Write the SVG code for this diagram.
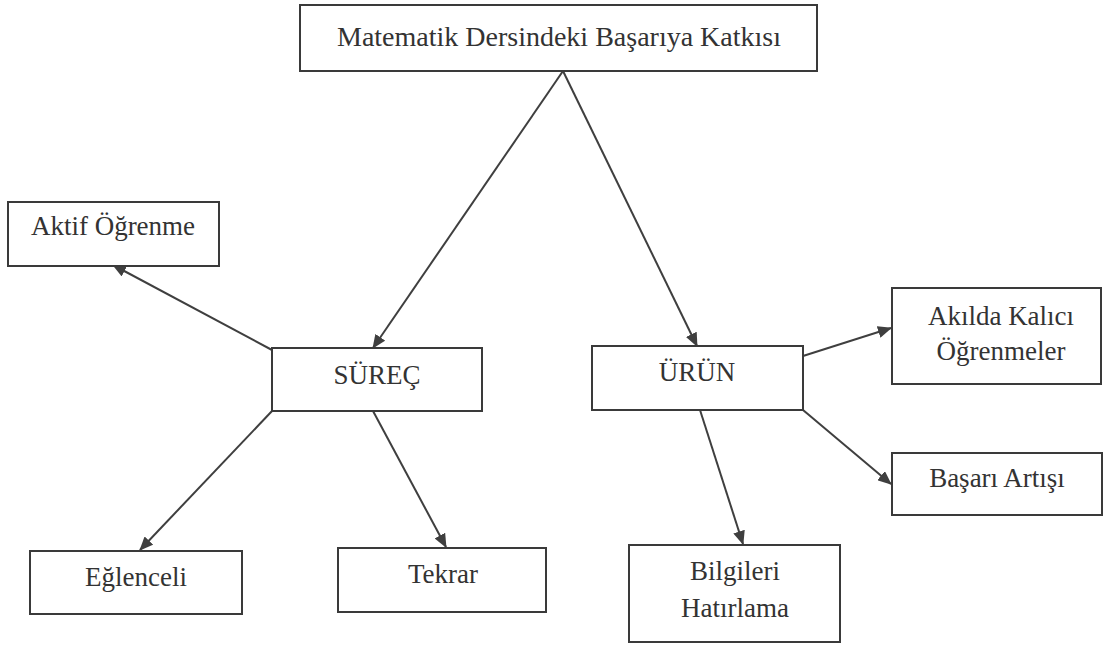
<svg xmlns="http://www.w3.org/2000/svg" width="1105" height="646" viewBox="0 0 1105 646">
  <style>
    .box { fill: #ffffff; stroke: #3a3a3a; stroke-width: 2; }
    .lbl { font-family: 'Liberation Serif', 'DejaVu Serif', serif; font-size: 27px; fill: #333333; text-anchor: middle; }
    .title { font-size: 28px; }
    .edge { stroke: #3f3f3f; stroke-width: 2; fill: none; marker-end: url(#arrow); }
  </style>
  <defs>
    <marker id="arrow" viewBox="0 0 14 12" markerWidth="14" markerHeight="12" refX="13" refY="6" orient="auto" markerUnits="userSpaceOnUse">
      <path d="M0,0 L14,6 L0,12 z" fill="#3f3f3f"/>
    </marker>
  </defs>
  <rect width="1105" height="646" fill="#ffffff"/>

  <g id="connectors">
    <line class="edge" x1="563" y1="71" x2="373" y2="348"/>
    <line class="edge" x1="563" y1="71" x2="697" y2="346"/>
    <line class="edge" x1="272" y1="350" x2="113" y2="265"/>
    <line class="edge" x1="272" y1="411" x2="140" y2="550"/>
    <line class="edge" x1="373" y1="411" x2="446" y2="547"/>
    <line class="edge" x1="803" y1="356" x2="891" y2="328"/>
    <line class="edge" x1="803" y1="410" x2="891" y2="484"/>
    <line class="edge" x1="700" y1="410" x2="743" y2="544"/>
  </g>

  <g id="node-root">
    <rect class="box" x="300" y="5" width="517" height="66"/>
    <text class="lbl title" x="559" y="46">Matematik Dersindeki Başarıya Katkısı</text>
  </g>
  <g id="node-surec">
    <rect class="box" x="272" y="348" width="210" height="63"/>
    <text class="lbl" x="377" y="384">SÜREÇ</text>
  </g>
  <g id="node-urun">
    <rect class="box" x="592" y="346" width="211" height="64"/>
    <text class="lbl" x="697" y="381">ÜRÜN</text>
  </g>
  <g id="node-aktif">
    <rect class="box" x="8" y="202" width="211" height="64"/>
    <text class="lbl" x="113" y="235">Aktif Öğrenme</text>
  </g>
  <g id="node-eglenceli">
    <rect class="box" x="30" y="551" width="212" height="63"/>
    <text class="lbl" x="136" y="586">Eğlenceli</text>
  </g>
  <g id="node-tekrar">
    <rect class="box" x="338" y="548" width="208" height="64"/>
    <text class="lbl" x="443" y="583">Tekrar</text>
  </g>
  <g id="node-bilgileri">
    <rect class="box" x="629" y="545" width="211" height="97"/>
    <text class="lbl" x="735" y="580">Bilgileri</text>
    <text class="lbl" x="735" y="617">Hatırlama</text>
  </g>
  <g id="node-akilda">
    <rect class="box" x="892" y="288" width="209" height="96"/>
    <text class="lbl" x="1001" y="325">Akılda Kalıcı</text>
    <text class="lbl" x="1001" y="360">Öğrenmeler</text>
  </g>
  <g id="node-basari">
    <rect class="box" x="892" y="453" width="210" height="62"/>
    <text class="lbl" x="997" y="487">Başarı Artışı</text>
  </g>
</svg>
